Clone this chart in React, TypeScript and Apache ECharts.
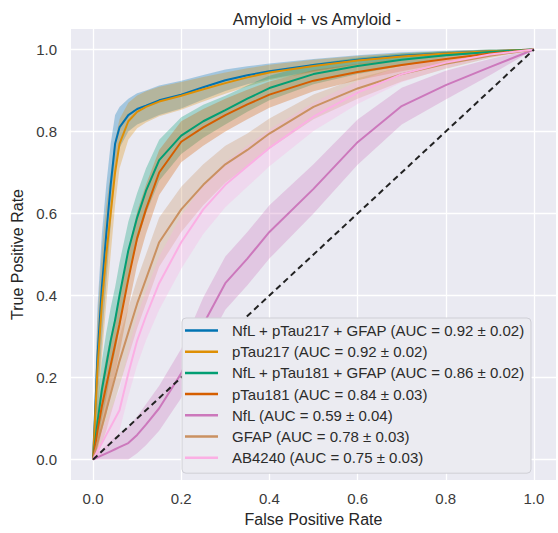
import React, { useEffect, useRef } from "react";
import * as echarts from "echarts";

const title = "Amyloid + vs Amyloid -";
const xName = "False Positive Rate";
const yName = "True Positive Rate";
const tickValues = [0, 0.2, 0.4, 0.6, 0.8, 1.0];

const names = [
  "NfL + pTau217 + GFAP (AUC = 0.92 ± 0.02)",
  "pTau217 (AUC = 0.92 ± 0.02)",
  "NfL + pTau181 + GFAP (AUC = 0.86 ± 0.02)",
  "pTau181 (AUC = 0.84 ± 0.03)",
  "NfL (AUC = 0.59 ± 0.04)",
  "GFAP (AUC = 0.78 ± 0.03)",
  "AB4240 (AUC = 0.75 ± 0.03)",
];
const colors = ["#0173B2", "#DE8F05", "#029E73", "#D55E00", "#CC78BC", "#CA9161", "#FBAFE4"];

const fpr = [0, 0.01, 0.02, 0.03, 0.04, 0.05, 0.06, 0.08, 0.10, 0.12, 0.15, 0.20, 0.25, 0.30, 0.35, 0.40, 0.50, 0.60, 0.70, 0.80, 0.90, 1.0];

const tprCombo217 = [0, 0.25, 0.42, 0.55, 0.67, 0.77, 0.81, 0.84, 0.855, 0.863, 0.876, 0.89, 0.908, 0.925, 0.937, 0.947, 0.962, 0.975, 0.985, 0.991, 0.996, 1];
const stdCombo217 = [0, 0.12, 0.13, 0.12, 0.1, 0.07, 0.05, 0.04, 0.038, 0.037, 0.036, 0.034, 0.03, 0.026, 0.022, 0.019, 0.015, 0.011, 0.008, 0.006, 0.004, 0];

const tprP217 = [0, 0.22, 0.38, 0.5, 0.6, 0.7, 0.77, 0.825, 0.848, 0.86, 0.873, 0.887, 0.903, 0.918, 0.932, 0.944, 0.96, 0.973, 0.983, 0.99, 0.996, 1];
const stdP217 = [0, 0.12, 0.13, 0.12, 0.1, 0.08, 0.06, 0.045, 0.04, 0.038, 0.036, 0.034, 0.03, 0.026, 0.022, 0.019, 0.015, 0.011, 0.008, 0.006, 0.004, 0];

const tprCombo181 = [0, 0.09, 0.17, 0.23, 0.29, 0.34, 0.40, 0.51, 0.59, 0.655, 0.73, 0.79, 0.825, 0.852, 0.88, 0.906, 0.94, 0.96, 0.975, 0.986, 0.994, 1];
const stdCombo181 = [0, 0.05, 0.07, 0.08, 0.08, 0.08, 0.08, 0.07, 0.06, 0.055, 0.05, 0.045, 0.04, 0.035, 0.032, 0.03, 0.025, 0.02, 0.015, 0.01, 0.006, 0];

const tprP181 = [0, 0.07, 0.13, 0.18, 0.23, 0.28, 0.33, 0.44, 0.54, 0.61, 0.70, 0.775, 0.81, 0.84, 0.866, 0.89, 0.924, 0.945, 0.962, 0.977, 0.99, 1];
const stdP181 = [0, 0.05, 0.06, 0.07, 0.07, 0.07, 0.07, 0.07, 0.065, 0.06, 0.055, 0.05, 0.045, 0.04, 0.036, 0.032, 0.026, 0.02, 0.015, 0.01, 0.006, 0];

const tprNfL = [0, 0.005, 0.01, 0.015, 0.02, 0.025, 0.03, 0.04, 0.06, 0.085, 0.125, 0.21, 0.33, 0.43, 0.49, 0.555, 0.66, 0.774, 0.862, 0.913, 0.957, 1];
const stdNfL = [0, 0.01, 0.015, 0.02, 0.025, 0.03, 0.035, 0.04, 0.045, 0.05, 0.055, 0.06, 0.065, 0.065, 0.065, 0.065, 0.06, 0.055, 0.045, 0.035, 0.02, 0];

const tprGFAP = [0, 0.04, 0.08, 0.12, 0.16, 0.2, 0.24, 0.31, 0.38, 0.44, 0.53, 0.61, 0.67, 0.72, 0.755, 0.795, 0.86, 0.905, 0.94, 0.965, 0.985, 1];
const stdGFAP = [0, 0.03, 0.04, 0.05, 0.05, 0.055, 0.06, 0.06, 0.06, 0.06, 0.06, 0.055, 0.05, 0.045, 0.04, 0.037, 0.03, 0.025, 0.018, 0.012, 0.006, 0];

const tprAB = [0, 0.02, 0.04, 0.06, 0.08, 0.1, 0.12, 0.21, 0.29, 0.35, 0.43, 0.53, 0.61, 0.67, 0.715, 0.76, 0.836, 0.895, 0.94, 0.968, 0.988, 1];
const stdAB = [0, 0.02, 0.03, 0.035, 0.04, 0.045, 0.05, 0.055, 0.06, 0.06, 0.065, 0.065, 0.06, 0.055, 0.05, 0.045, 0.035, 0.028, 0.02, 0.013, 0.006, 0];

const diagX = [0, 1];
const diagY = [0, 1];

const tprs = [tprCombo217, tprP217, tprCombo181, tprP181, tprNfL, tprGFAP, tprAB];
const stds = [stdCombo217, stdP217, stdCombo181, stdP181, stdNfL, stdGFAP, stdAB];

const FONT = "'Liberation Sans', Arial, sans-serif";

export default function App() {
  const ref = useRef<HTMLDivElement>(null);
  useEffect(() => {
    document.body.style.margin = "0";
    const chart = echarts.init(ref.current!, null, { renderer: "svg" });
    const series: any[] = [];
    tprs.forEach((tpr, k) => {
      const std = stds[k];
      const upper = tpr.map((v, i) => Math.min(1, v + std[i]));
      const lower = tpr.map((v, i) => Math.max(0, v - std[i]));
      series.push({
        type: "line",
        name: names[k],
        data: fpr.map((x, i) => [x, tpr[i]]),
        symbol: "none",
        lineStyle: { color: colors[k], width: 2 },
        itemStyle: { color: colors[k] },
        z: 3,
      });
      series.push({
        type: "custom",
        name: "band" + k,
        data: [[0, 0]],
        z: 3,
        silent: true,
        renderItem: (_p: any, api: any) => {
          const pts: number[][] = [];
          for (let i = 0; i < fpr.length; i++) pts.push(api.coord([fpr[i], upper[i]]));
          for (let i = fpr.length - 1; i >= 0; i--) pts.push(api.coord([fpr[i], lower[i]]));
          return {
            type: "polygon",
            shape: { points: pts },
            style: { fill: colors[k], opacity: 0.3 },
          };
        },
      });
    });
    series.push({
      type: "line",
      name: "diag",
      data: diagX.map((x, i) => [x, diagY[i]]),
      symbol: "none",
      lineStyle: { color: "#222", width: 2, type: [6, 4] },
      z: 4,
    });

    chart.setOption({
      animation: false,
      backgroundColor: "#ffffff",
      title: {
        text: title,
        left: 312,
        textAlign: "center",
        top: 6,
        textStyle: { fontFamily: FONT, fontSize: 16.7, fontWeight: "normal", color: "#262626" },
      },
      grid: { left: 71, right: 2, top: 29, bottom: 53, show: true, backgroundColor: "#EAEAF2", borderWidth: 0 },
      legend: {
        data: names,
        orient: "vertical",
        left: 182,
        top: 318,
        icon: "rect",
        itemWidth: 33,
        itemHeight: 2.5,
        itemGap: 6.2,
        padding: [5, 6, 8, 3],
        backgroundColor: "#EBEBF1",
        borderColor: "#CFCFD6",
        borderWidth: 1,
        borderRadius: 4,
        textStyle: { fontFamily: FONT, fontSize: 15, color: "#2b2b2b", padding: [0, 0, 0, 9] },
        z: 10,
      },
      xAxis: {
        type: "value",
        min: -0.05,
        max: 1.05,
        name: xName,
        nameLocation: "middle",
        nameGap: 31,
        nameTextStyle: { fontFamily: FONT, fontSize: 16, color: "#262626" },
        axisLine: { show: false },
        axisTick: { show: false, customValues: tickValues },
        axisLabel: {
          customValues: tickValues,
          formatter: (v: number) => v.toFixed(1),
          fontFamily: FONT,
          fontSize: 15,
          color: "#3a3a3a",
          margin: 11,
        },
        splitLine: { show: true, lineStyle: { color: "#ffffff", width: 1.3 } },
      },
      yAxis: {
        type: "value",
        min: -0.05,
        max: 1.05,
        name: yName,
        nameLocation: "middle",
        nameGap: 41,
        nameTextStyle: { fontFamily: FONT, fontSize: 16, color: "#262626" },
        axisLine: { show: false },
        axisTick: { show: false, customValues: tickValues },
        axisLabel: {
          customValues: tickValues,
          formatter: (v: number) => v.toFixed(1),
          fontFamily: FONT,
          fontSize: 15,
          color: "#3a3a3a",
          margin: 14,
        },
        splitLine: { show: true, lineStyle: { color: "#ffffff", width: 1.3 } },
      },
      series,
    });
    return () => chart.dispose();
  }, []);
  return <div ref={ref} style={{ width: 558, height: 533 }} />;
}
